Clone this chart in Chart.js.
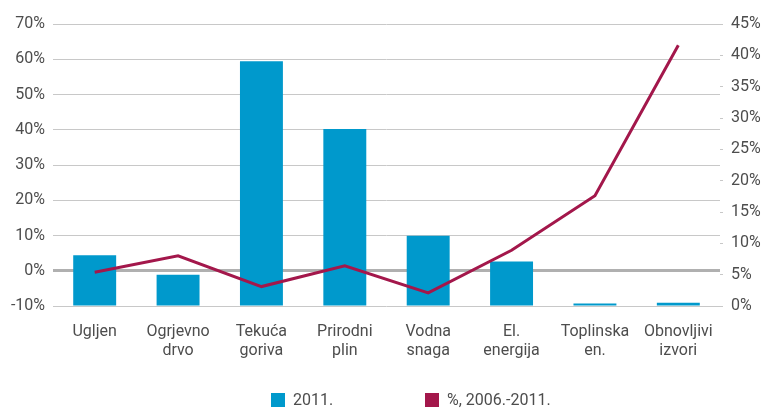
<!DOCTYPE html>
<html>
<head>
<meta charset="utf-8">
<script src="https://cdn.jsdelivr.net/npm/chart.js@4"></script>
<style>
  body { margin: 0; background: #fff; }
  #wrap { position: relative; width: 765px; height: 408px; }
  #legend { position: absolute; top: 390px; left: 0; width: 765px; font: 16px Roboto, sans-serif; color: #4d4d4d; }
  .item { position: absolute; top: 0; display: flex; align-items: center; }
  .box { width: 14px; height: 14px; margin-right: 8px; }
</style>
</head>
<body>
<div id="wrap">
  <canvas id="chart" width="765" height="408"></canvas>
  <div id="legend"></div>
</div>
<script>
// kategorije (dvoredni nazivi)
const categories = [
    ["Ugljen"], ["Ogrjevno", "drvo"], ["Tekuća", "goriva"], ["Prirodni", "plin"],
    ["Vodna", "snaga"], ["El.", "energija"], ["Toplinska", "en."], ["Obnovljivi", "izvori"]
];

// udio 2011. (lijeva os)
const share2011 = [4.4, -1.1, 59.4, 40.2, 9.9, 2.6, -9.3, -9.1];

// promjena 2006.-2011. (desna os)
const change0611 = [5.4, 8.0, 3.1, 6.4, 2.1, 8.9, 17.6, 41.6];

const leftTicks = [-10, 0, 10, 20, 30, 40, 50, 60, 70];
const rightTicks = [0, 5, 10, 15, 20, 25, 30, 35, 40, 45];

const seriesNames = ["2011.", "%, 2006.-2011."];
const BLUE = "#0099cc";
const RED = "#a3174b";

const font = { family: "Roboto, sans-serif", size: 16, lineHeight: 1.2 };

const chart = new Chart(document.getElementById("chart"), {
    data: {
        labels: categories,
        datasets: [
            {
                type: "line",
                label: seriesNames[1],
                data: change0611,
                yAxisID: "y2",
                borderColor: RED,
                backgroundColor: RED,
                borderWidth: 3,
                pointRadius: 0,
                tension: 0,
                order: 0
            },
            {
                type: "bar",
                label: seriesNames[0],
                data: share2011,
                yAxisID: "y",
                base: -10,
                backgroundColor: BLUE,
                barPercentage: 0.515,
                categoryPercentage: 1,
                order: 1
            }
        ]
    },
    options: {
        responsive: false,
        animation: false,
        layout: { padding: { top: 24, left: 0, right: 0, bottom: 42 } },
        plugins: { legend: { display: false }, tooltip: { enabled: false } },
        scales: {
            x: {
                grid: { display: false },
                border: { display: false },
                ticks: { font: font, color: "#4d4d4d", padding: 8, maxRotation: 0, autoSkip: false },
                afterFit: (s) => { s.height = 60; }
            },
            y: {
                position: "left",
                min: -10,
                max: 70,
                afterBuildTicks: (s) => { s.ticks = leftTicks.map(v => ({ value: v })); },
                afterFit: (s) => { s.width = 53; },
                border: { display: false },
                grid: {
                    drawTicks: false,
                    color: (c) => c.tick && c.tick.value === 0 ? "#b0b0b0" : "#c8c8c8",
                    lineWidth: (c) => c.tick && c.tick.value === 0 ? 3 : 1
                },
                ticks: { font: font, color: "#4d4d4d", padding: 8, callback: (v) => v + "%" }
            },
            y2: {
                position: "right",
                min: 0,
                max: 45,
                afterBuildTicks: (s) => { s.ticks = rightTicks.map(v => ({ value: v })); },
                afterFit: (s) => { s.width = 45; },
                border: { display: false },
                grid: { drawOnChartArea: false, tickLength: 3, color: "#c8c8c8" },
                ticks: { font: font, color: "#4d4d4d", padding: 8, callback: (v) => v + "%" }
            }
        }
    }
});

// legenda ispod grafa
const legend = document.getElementById("legend");
[[seriesNames[0], BLUE, 271], [seriesNames[1], RED, 425]].forEach(([name, color, left]) => {
    const el = document.createElement("div");
    el.className = "item";
    el.style.left = left + "px";
    el.innerHTML = `<span class="box" style="background:${color}"></span><span>${name}</span>`;
    legend.appendChild(el);
});
</script>
</body>
</html>
